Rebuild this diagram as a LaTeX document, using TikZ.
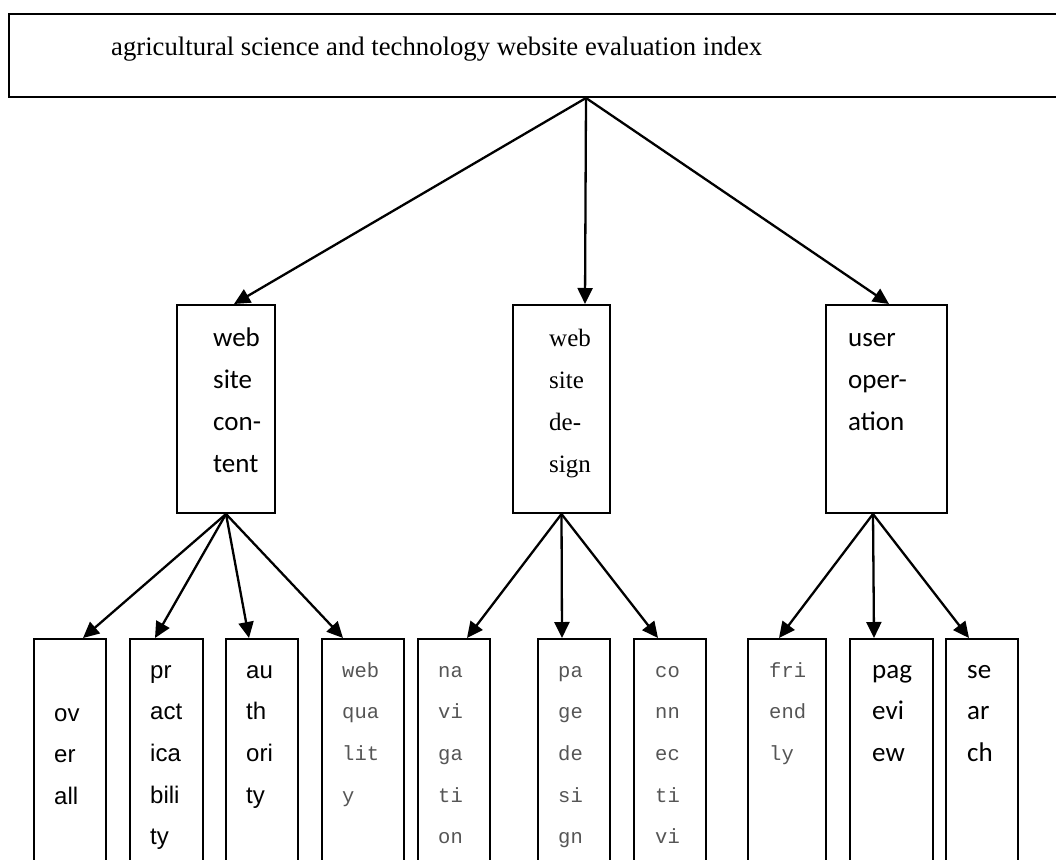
\documentclass[tikz,border=0pt]{standalone}
\usepackage{fontspec}
\setmainfont{Liberation Serif}
\newfontfamily\arialfont{Liberation Sans}
\newfontfamily\calfont{Carlito}
\newfontfamily\songfont{Liberation Mono}
\usepackage{xcolor}
\usetikzlibrary{arrows.meta,calc}
\definecolor{txtgray}{RGB}{85,85,85}

\begin{document}
\begin{tikzpicture}[
    x=1pt, y=-1pt,
    box/.style={draw, line width=2pt, inner sep=0pt},
    leaf/.style={box, anchor=north, minimum height=260pt},
    arr/.style={-{Triangle[length=16pt,width=15pt]}, line width=2.3pt},
    txt/.style={anchor=base west, align=left, inner sep=0pt},
    sans/.style={txt, font=\arialfont\fontsize{24}{41.7}\selectfont},
    cal/.style={txt, font=\calfont\fontsize{27}{41.7}\selectfont},
    song/.style={txt, text=txtgray, font=\songfont\fontsize{20.5}{41.7}\selectfont},
    midcal/.style={txt, font=\calfont\fontsize{27}{42}\selectfont},
    midser/.style={txt, font=\fontsize{25}{42}\selectfont}
]
    \clip (0,0) rectangle (1056,859);

    % Top index box
    \node[box, minimum width=1154pt, minimum height=83pt] (idx) at (586,55.5) {};
    \node[txt, font=\fontsize{26.7}{30}\selectfont] (title) at (111,56)
        {agricultural science and technology website evaluation index};

    % Second level (text placed by its last baseline)
    \node[box, minimum width=98pt, minimum height=208pt] (cont) at (226,409) {};
    \node[box, minimum width=97pt, minimum height=208pt] (des) at (561.5,409) {};
    \node[box, minimum width=121pt, minimum height=208pt] (oper) at (886.5,409) {};
    \node[midcal] (tcont) at (213,472) {web\\site\\con-\\tent};
    \node[midser] (tdes) at (549,472) {web\\site\\de-\\sign};
    \node[midcal] (toper) at (848,430) {user\\oper-\\ation};

    \draw[arr] (idx.south) -- ($(cont.north west)+(58,0)$);
    \draw[arr] (idx.south) -- ($(des.north west)+(73,0)$);
    \draw[arr] (idx.south) -- ($(oper.north west)+(64,0)$);

    % Third level boxes
    \node[leaf, minimum width=72pt] (overall) at (70,638) {};
    \node[leaf, minimum width=73pt] (pract) at (166.5,638) {};
    \node[leaf, minimum width=72pt] (auth) at (262,638) {};
    \node[leaf, minimum width=82pt] (webq) at (363,638) {};
    \node[leaf, minimum width=72pt] (navi) at (454,638) {};
    \node[leaf, minimum width=72pt] (pgdes) at (574,638) {};
    \node[leaf, minimum width=72pt] (conn) at (670,638) {};
    \node[leaf, minimum width=78pt] (friend) at (787,638) {};
    \node[leaf, minimum width=83pt] (pview) at (891.5,638) {};
    \node[leaf, minimum width=72pt] (srch) at (982,638) {};

    % Third level labels (last baseline)
    \node[sans] (toverall) at (54,804.4) {ov\\er\\all};
    \node[sans] (tpract) at (150,844.8) {pr\\act\\ica\\bili\\ty};
    \node[sans] (tauth) at (246,803.1) {au\\th\\ori\\ty};
    \node[song] (twebq) at (342,802.1) {web\\qua\\lit\\y};
    \node[song] (tnavi) at (438,843.8) {na\\vi\\ga\\ti\\on};
    \node[song] (tpgdes) at (558,843.8) {pa\\ge\\de\\si\\gn};
    \node[song] (tconn) at (655,843.8) {co\\nn\\ec\\ti\\vi};
    \node[song] (tfriend) at (769,760.4) {fri\\end\\ly};
    \node[cal] (tpview) at (872,761.4) {pag\\evi\\ew};
    \node[cal] (tsrch) at (967,761.4) {se\\ar\\ch};

    % Arrows to third level
    \draw[arr] (cont.south) -- ($(overall.north)+(13,0)$);
    \draw[arr] (cont.south) -- ($(pract.north)+(-11.5,0)$);
    \draw[arr] (cont.south) -- ($(auth.north)+(-13,0)$);
    \draw[arr] (cont.south) -- ($(webq.north)+(-20,0)$);
    \draw[arr] (des.south) -- ($(navi.north)+(13,0)$);
    \draw[arr] (des.south) -- ($(pgdes.north)+(-12,0)$);
    \draw[arr] (des.south) -- ($(conn.north)+(-12,0)$);
    \coordinate (ofan) at ($(oper.south west)+(48,0)$);
    \draw[arr] (ofan) -- ($(friend.north)+(-8,0)$);
    \draw[arr] (ofan) -- ($(pview.north)+(-17.5,0)$);
    \draw[arr] (ofan) -- ($(srch.north)+(-13,0)$);
\end{tikzpicture}
\end{document}
